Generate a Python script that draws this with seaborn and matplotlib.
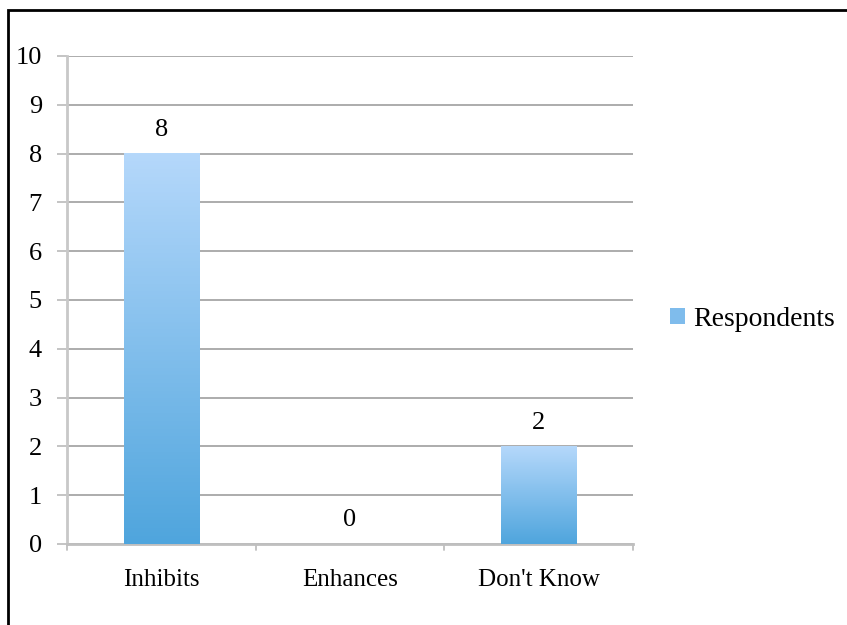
import numpy as np
import pandas as pd
import matplotlib
matplotlib.use("Agg")
import matplotlib.pyplot as plt
import seaborn as sns
from matplotlib.colors import LinearSegmentedColormap
from matplotlib.patches import Rectangle, Patch

categories = ["Inhibits", "Enhances", "Don't Know"]
respondents = [8, 0, 2]
series_name = "Respondents"
y_ticks = list(range(0, 11))

sns.set_theme(style="white")
plt.rcParams["font.family"] = ["Liberation Serif", "DejaVu Serif"]

df = pd.DataFrame({"category": categories, "value": respondents})

fig = plt.figure(figsize=(8.47, 6.25), dpi=100)
ax = fig.add_axes([0.0791, 0.1296, 0.668, 0.7808])

sns.barplot(data=df, x="category", y="value", ax=ax, color="#7fbcec", width=0.4,
            saturation=1, zorder=3)

# gradient fill: light at top, darker at bottom
grad = LinearSegmentedColormap.from_list("bar", ["#4fa5dd", "#b5d8fb"])
for patch in ax.patches:
    x0, y0 = patch.get_x(), patch.get_y()
    w, h = patch.get_width(), patch.get_height()
    if h <= 0:
        patch.set_visible(False)
        continue
    ax.imshow(np.linspace(0, 1, 256).reshape(-1, 1), cmap=grad, origin="lower",
              extent=[x0, x0 + w, y0, y0 + h], aspect="auto", zorder=3)
    patch.set_facecolor("none")
    patch.set_edgecolor("none")

ax.bar_label(ax.containers[0], labels=[str(v) for v in respondents], padding=9,
             fontsize=19, color="black")

ax.set_xlim(-0.5, len(categories) - 0.5)
ax.set_ylim(0, 10)
ax.set_yticks(y_ticks)
ax.set_yticklabels([str(t) for t in y_ticks], fontsize=19, color="black")
ax.yaxis.grid(True, color="#a6a6a6", linewidth=1.3, zorder=0)
ax.set_axisbelow(True)
ax.tick_params(axis="y", left=True, length=7, width=1.3, color="#bfbfbf", pad=11)
ax.set_xticks(range(len(categories)))
ax.set_xticklabels(categories, fontsize=18, color="black")
ax.tick_params(axis="x", bottom=False, pad=12)
# boundary ticks between categories
for b in np.arange(-0.5, len(categories), 1.0):
    ax.plot([b, b], [0, -0.12], color="#bfbfbf", lw=1.3, clip_on=False, zorder=2)
ax.set_xlabel("")
ax.set_ylabel("")
for side in ["top", "right"]:
    ax.spines[side].set_visible(False)
ax.spines["left"].set_color("#c8c8c8")
ax.spines["left"].set_linewidth(2)
ax.spines["bottom"].set_color("#bfbfbf")
ax.spines["bottom"].set_linewidth(2)

handle = Patch(facecolor="#7fbcec", edgecolor="none")
leg = fig.legend([handle], [series_name], loc="center left", bbox_to_anchor=(0.761, 0.489),
                 frameon=False, fontsize=20, handlelength=0.55, handleheight=0.55,
                 handletextpad=0.3)
for t in leg.get_texts():
    t.set_color("black")

fig.patches.append(Rectangle((0.0095, -0.05), 1.1, 1.034, transform=fig.transFigure,
                             fill=False, edgecolor="black", linewidth=2))

fig.savefig("out.png", dpi=100)
